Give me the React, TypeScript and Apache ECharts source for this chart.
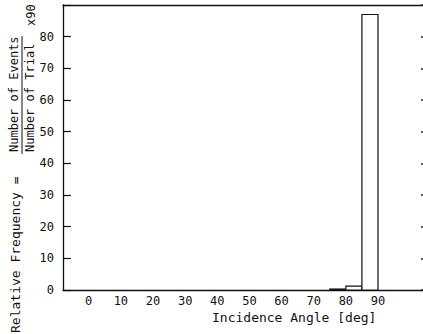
import React, { useEffect, useRef } from "react";
import * as echarts from "echarts";

// Histogram bins (degrees) and relative frequencies
const binStart = [75, 80, 85];
const binEnd = [80, 85, 90];
const frequency = [0.3, 1.2, 87];

const xTickLabels = [0, 10, 20, 30, 40, 50, 60, 70, 80, 90];
const yTickLabels = [0, 10, 20, 30, 40, 50, 60, 70, 80];

const FONT = "DejaVu Sans Mono";

export default function App() {
  const ref = useRef<HTMLDivElement>(null);

  useEffect(() => {
    if (!ref.current) return;
    const chart = echarts.init(ref.current, undefined, { renderer: "svg" });
    const data = binStart.map((s, i) => [s, binEnd[i], frequency[i]]);

    chart.setOption({
      animation: false,
      backgroundColor: "#ffffff",
      grid: { left: 63, right: 0, top: 5, bottom: 44 },
      xAxis: [
        {
          type: "value",
          position: "bottom",
          min: -8,
          max: 104,
          axisLine: { show: true, onZero: false, lineStyle: { color: "#111", width: 1.3 } },
          axisTick: { show: false },
          splitLine: { show: false },
          axisLabel: {
            customValues: xTickLabels,
            margin: 5,
            color: "#111",
            fontFamily: FONT,
            fontSize: 12,
          },
        },
        {
          type: "value",
          position: "top",
          min: -8,
          max: 104,
          axisLine: { show: true, onZero: false, lineStyle: { color: "#111", width: 1.3 } },
          axisTick: { show: false },
          axisLabel: { show: false },
          splitLine: { show: false },
        },
      ],
      yAxis: [
        {
          type: "value",
          position: "left",
          min: 0,
          max: 90,
          interval: 10,
          axisLine: { show: true, onZero: false, lineStyle: { color: "#111", width: 1.3 } },
          axisTick: { show: true, inside: true, length: 8, lineStyle: { color: "#111", width: 1.2 } },
          splitLine: { show: false },
          axisLabel: {
            margin: 9,
            color: "#111",
            fontFamily: FONT,
            fontSize: 12,
            formatter: (v: number) => (yTickLabels.includes(v) ? String(v) : ""),
          },
        },
        {
          type: "value",
          position: "right",
          min: 0,
          max: 90,
          interval: 10,
          offset: 3,
          axisLine: { show: false, onZero: false },
          axisTick: { show: true, inside: true, length: 5, lineStyle: { color: "#222222", width: 1.5 } },
          axisLabel: { show: false },
          splitLine: { show: false },
        },
      ],
      series: [
        {
          type: "custom",
          xAxisIndex: 0,
          yAxisIndex: 0,
          data,
          renderItem: (params: any, api: any) => {
            const p0 = api.coord([api.value(0), api.value(2)]);
            const p1 = api.coord([api.value(1), 0]);
            return {
              type: "rect",
              shape: { x: p0[0], y: p0[1], width: p1[0] - p0[0], height: p1[1] - p0[1] },
              style: { fill: "#ffffff", stroke: "#111", lineWidth: 1.2 },
            };
          },
        },
      ],
      graphic: [
        {
          type: "text",
          x: 15,
          y: 333,
          rotation: Math.PI / 2,
          style: {
            text: "Relative Frequency =",
            fontFamily: FONT,
            fontSize: 13,
            fill: "#111",
            textAlign: "left",
            textVerticalAlign: "middle",
          },
        },
        {
          type: "text",
          x: 14,
          y: 152,
          rotation: Math.PI / 2,
          style: {
            text: "Number of Events",
            fontFamily: FONT,
            fontSize: 12,
            fill: "#111",
            textAlign: "left",
            textVerticalAlign: "middle",
          },
        },
        {
          type: "line",
          shape: { x1: 22, y1: 154, x2: 22, y2: 36 },
          style: { stroke: "#111", lineWidth: 1 },
        },
        {
          type: "text",
          x: 30,
          y: 152,
          rotation: Math.PI / 2,
          style: {
            text: "Number of Trial",
            fontFamily: FONT,
            fontSize: 12,
            fill: "#111",
            textAlign: "left",
            textVerticalAlign: "middle",
          },
        },
        {
          type: "text",
          x: 31,
          y: 26,
          rotation: Math.PI / 2,
          style: {
            text: "x90",
            fontFamily: FONT,
            fontSize: 12,
            fill: "#111",
            textAlign: "left",
            textVerticalAlign: "middle",
          },
        },
        {
          type: "text",
          x: 212,
          y: 317,
          style: {
            text: "Incidence Angle [deg]",
            fontFamily: FONT,
            fontSize: 13,
            fill: "#111",
            textAlign: "left",
            textVerticalAlign: "middle",
          },
        },
      ],
    });

    return () => chart.dispose();
  }, []);

  return <div ref={ref} style={{ width: 423, height: 334, position: "absolute", left: 0, top: 0 }} />;
}
